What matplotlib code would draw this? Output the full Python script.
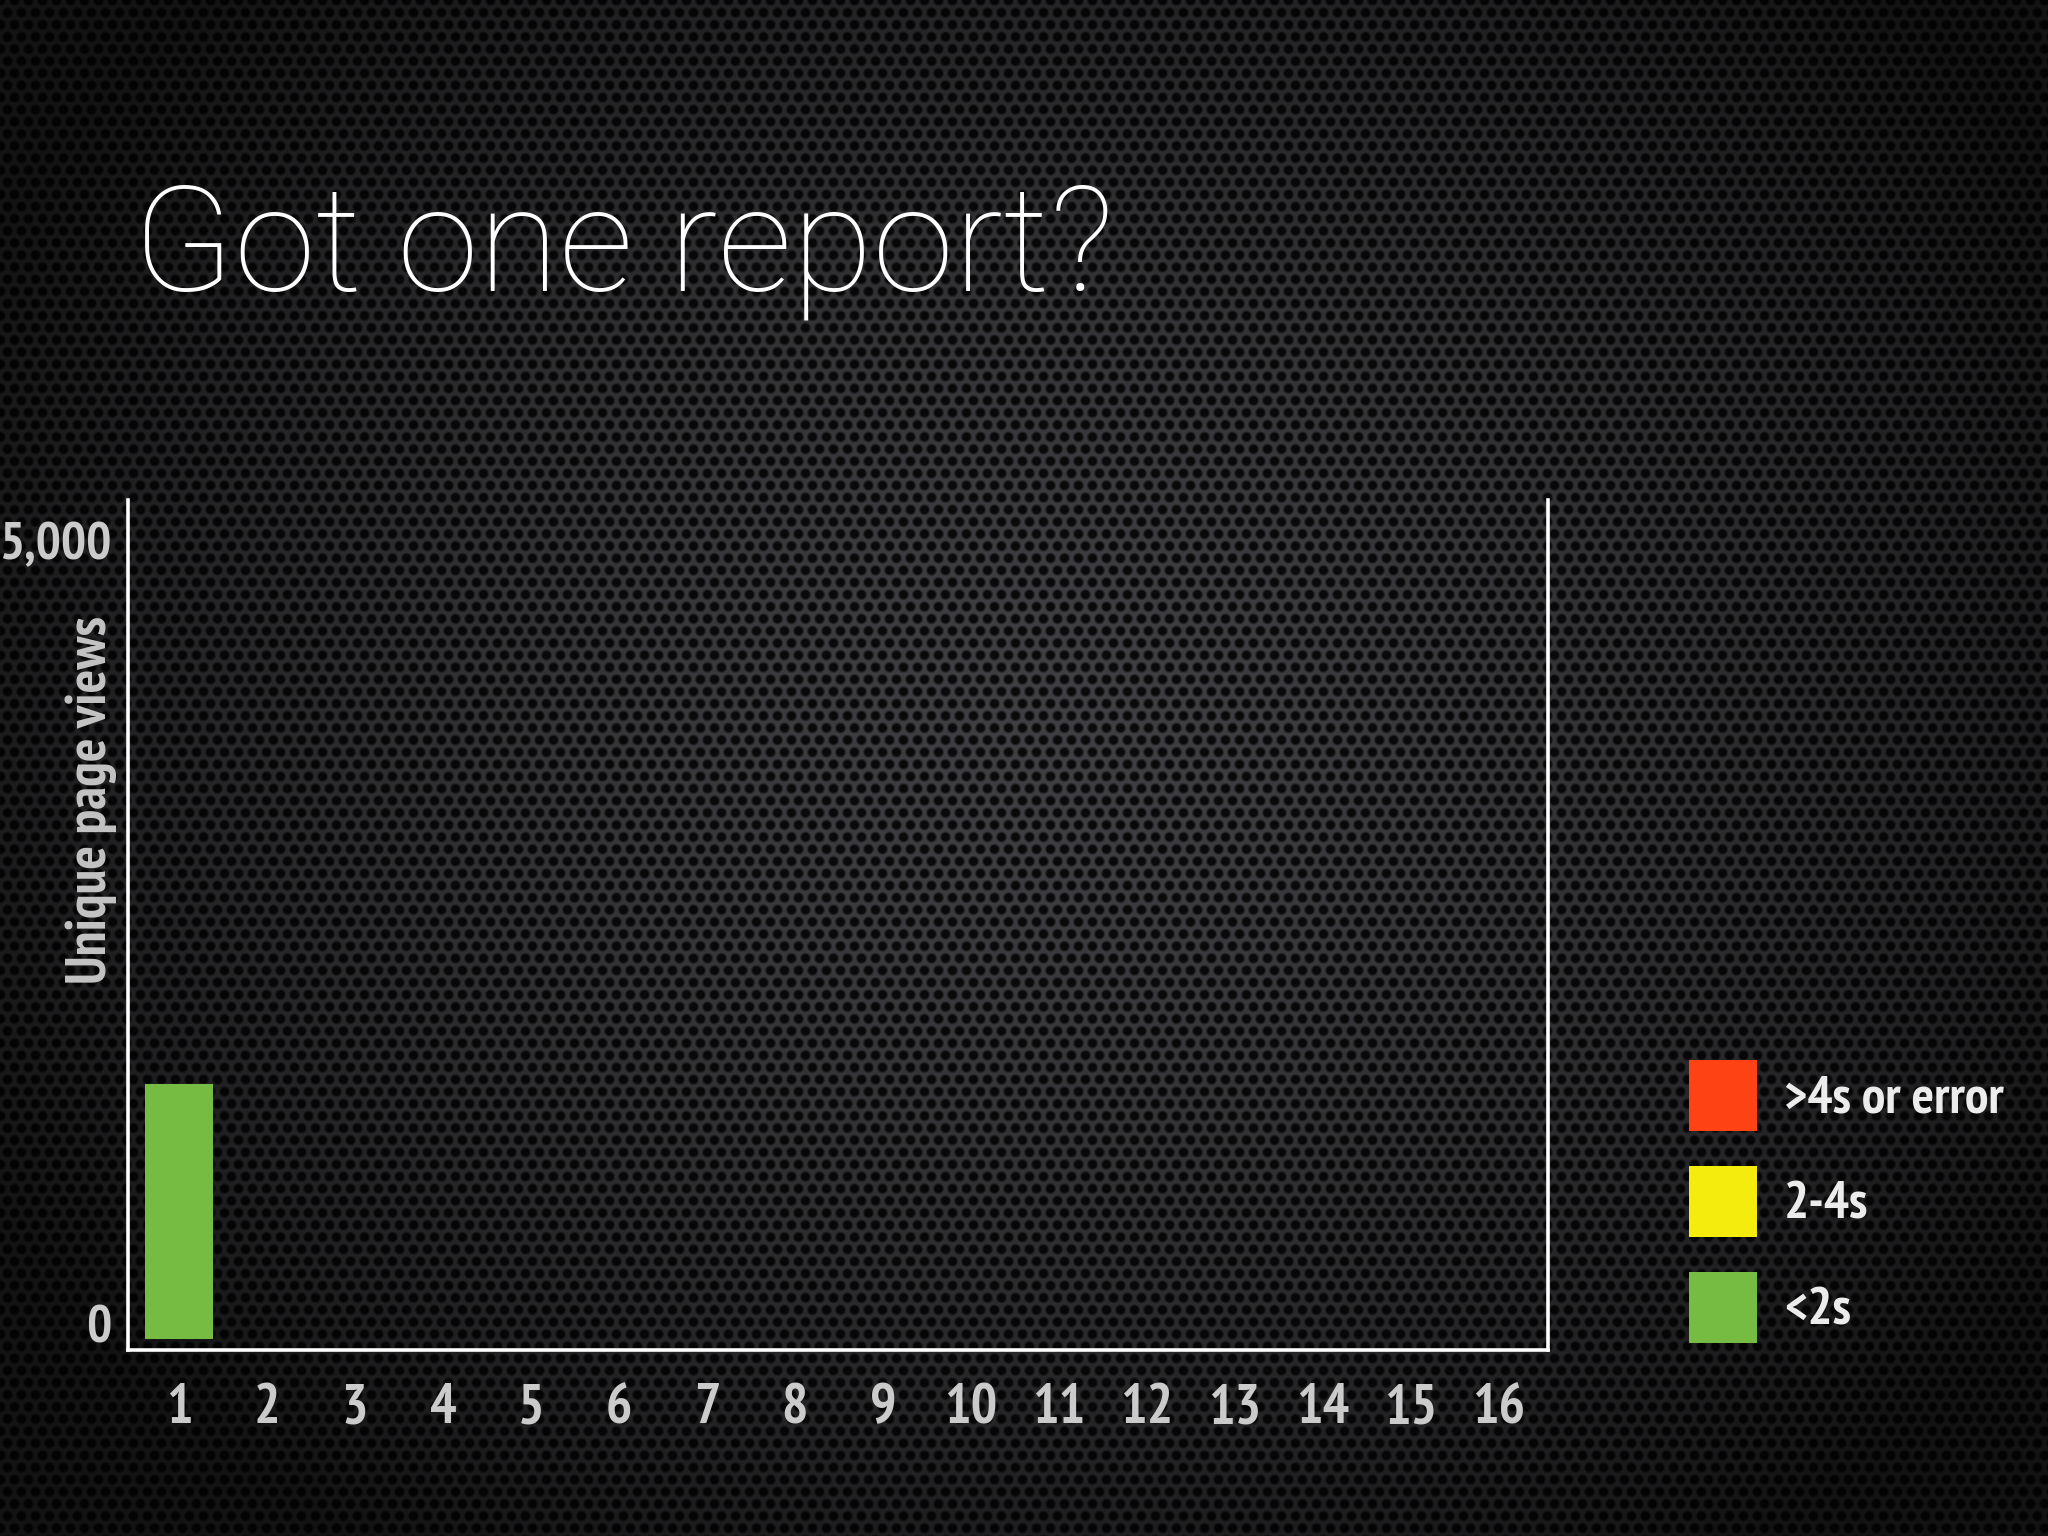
import numpy as np
import matplotlib.pyplot as plt
from matplotlib.ticker import FuncFormatter
from matplotlib.transforms import ScaledTranslation

# ================= DATA =================
reports = [1, 2, 3, 4, 5, 6, 7, 8, 9, 10, 11, 12, 13, 14, 15, 16]
views_fast = [1630, 0, 0, 0, 0, 0, 0, 0, 0, 0, 0, 0, 0, 0, 0, 0]   # <2s
views_mid = [0, 0, 0, 0, 0, 0, 0, 0, 0, 0, 0, 0, 0, 0, 0, 0]       # 2-4s
views_slow = [0, 0, 0, 0, 0, 0, 0, 0, 0, 0, 0, 0, 0, 0, 0, 0]      # >4s or error
y_ticks = [0, 5000]

# ================= STYLE =================
GREEN = "#76bc43"
YELLOW = "#f4ec0c"
RED = "#ff4213"
TICK_GREY = "#cbcbcb"
LABEL_FONT = ["PT Sans Narrow", "Liberation Sans", "DejaVu Sans"]
TITLE_FONT = ["Roboto", "Liberation Sans", "DejaVu Sans"]

W, H = 2048, 1536


def perforated_background():
    """Dark perforated-metal texture with a soft vignette."""
    yy, xx = np.mgrid[0:H, 0:W].astype(float)
    dx = 14.0
    dy = dx * np.sqrt(3) / 2

    def lattice(ox, oy):
        fx = np.mod(xx - ox, dx)
        fx = np.minimum(fx, dx - fx)
        fy = np.mod(yy - oy, 2 * dy)
        fy = np.minimum(fy, 2 * dy - fy)
        return np.hypot(fx, fy)

    d = np.minimum(lattice(0, 0), lattice(dx / 2, dy))
    mesh = np.clip((d - 3.5) / 2.5, 0, 1)
    r = np.hypot((xx - 1050) / 1100, (yy - 720) / 900)
    vign = np.clip(1 - 0.6 * r ** 1.5, 0.3, 1)
    val = (0.04 + 0.21 * mesh) * vign
    img = np.dstack([val, val, val * 1.06])
    return np.clip(img, 0, 1)


fig = plt.figure(figsize=(W / 100, H / 100), dpi=100)

bg = fig.add_axes([0, 0, 1, 1], zorder=-1)
bg.imshow(perforated_background(), aspect="auto", interpolation="nearest")
bg.axis("off")

fig.text(0.065, 0.811, "Got one report?", fontsize=106, color="white",
         family=TITLE_FONT, weight="light", va="baseline", ha="left")

ax = fig.add_axes([0.0625, 0.1211, 0.6934, 0.5534])
ax.set_facecolor("none")

fast = np.array(views_fast)
mid = np.array(views_mid)
slow = np.array(views_slow)
ax.bar(reports, fast, width=0.77, color=GREEN, label="<2s")
ax.bar(reports, mid, width=0.77, bottom=fast, color=YELLOW, label="2-4s")
ax.bar(reports, slow, width=0.77, bottom=fast + mid, color=RED, label=">4s or error")

ax.set_xlim(0.42, 16.56)
ax.set_ylim(-70, 5358)
ax.set_xticks(reports)
ax.set_yticks(y_ticks)
ax.yaxis.set_major_formatter(FuncFormatter(lambda v, p: f"{int(v):,}"))

for side in ["left", "right", "bottom"]:
    ax.spines[side].set_color("white")
    ax.spines[side].set_linewidth(2.6)
ax.spines["top"].set_visible(False)

ax.tick_params(axis="x", length=0, pad=24, labelsize=40, labelcolor=TICK_GREY)
ax.tick_params(axis="y", length=0, pad=12, labelsize=38, labelcolor=TICK_GREY)
for lab in ax.get_xticklabels() + ax.get_yticklabels():
    lab.set_family(LABEL_FONT)
    lab.set_fontweight("bold")
# y labels sit slightly above their gridline in the original slide
lift = ScaledTranslation(0, 0.15, fig.dpi_scale_trans)
for lab in ax.get_yticklabels():
    lab.set_transform(lab.get_transform() + lift)

ax.text(-0.026, 0.647, "Unique page views", transform=ax.transAxes,
        rotation=90, ha="center", va="center", fontsize=40, weight="bold",
        color="#c4c4c4", family=LABEL_FONT)

handles, labels = ax.get_legend_handles_labels()
leg = fig.legend(handles[::-1], labels[::-1], loc="upper left",
                 bbox_to_anchor=(0.8247, 0.3099), frameon=False,
                 borderpad=0, borderaxespad=0, handlelength=1.28,
                 handleheight=1.70, handletextpad=0.52, labelspacing=0.66,
                 prop={"family": LABEL_FONT, "weight": "bold", "size": 38})
for t in leg.get_texts():
    t.set_color("#ececec")

fig.savefig("out.png", dpi=100)
